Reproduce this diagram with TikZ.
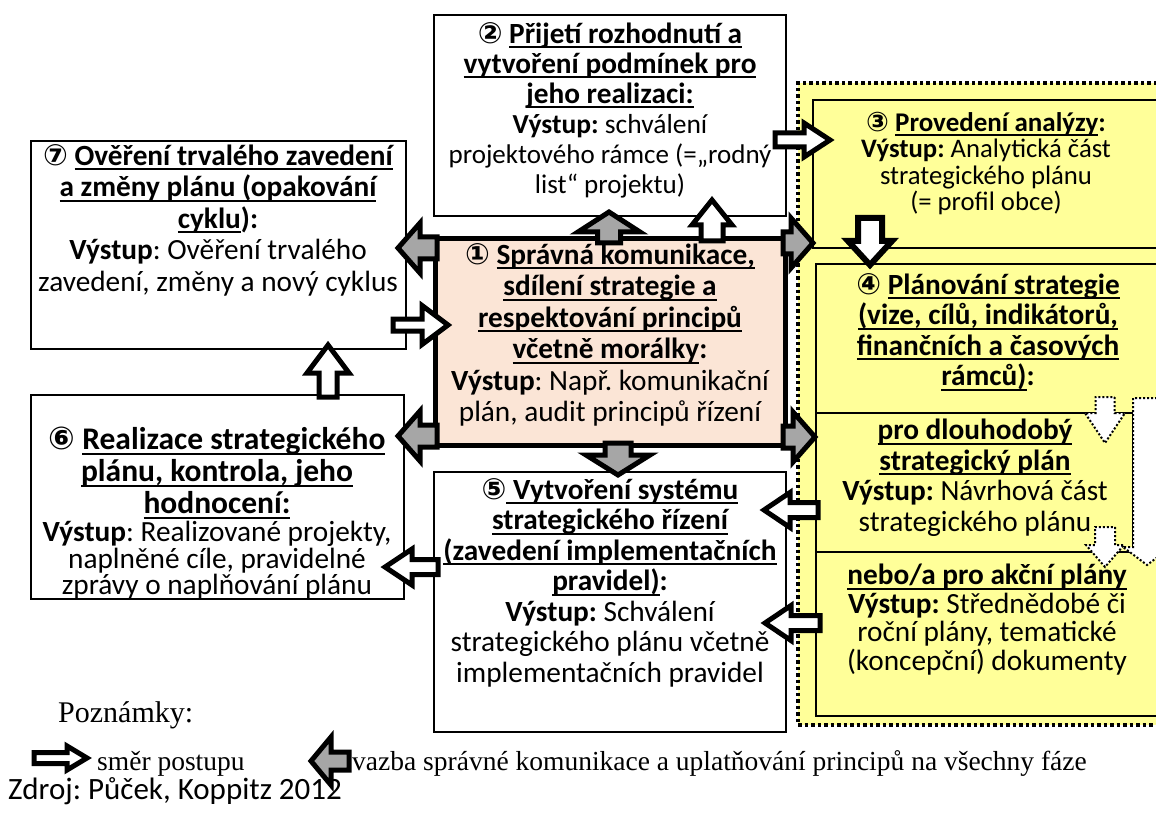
\documentclass[tikz,border=0pt]{standalone}
\usepackage{fontspec}
\setmainfont{Carlito}
\newfontfamily\symfont{DejaVu Sans}
\newfontfamily\notefont{Liberation Serif}
\usetikzlibrary{calc}
\frenchspacing

\definecolor{peach}{HTML}{FBE5D6}
\definecolor{lemon}{HTML}{FFFF99}
\definecolor{linkgray}{HTML}{A6A6A6}

\newcommand\cn[1]{{\symfont #1}}
% underline drawn as a rule under one line of text
\newcommand\uln[1]{\setbox0=\hbox{#1}\leavevmode\rlap{\rule[-0.17em]{\wd0}{0.07em}}\box0}

% block arrow: [style]{tail}{tip}{shaft half width}{head half width}{head length}
\newcommand\blockarrow[6][]{%
  \draw[#1] let \p1=(#2), \p2=(#3),
      \n1={atan2(\y2-\y1,\x2-\x1)}, \n2={veclen(\x2-\x1,\y2-\y1)} in
    [shift={(\p1)}, rotate=\n1]
    (0pt,#4) -- ({\n2-#6},#4) -- ({\n2-#6},#5) -- ({\n2},0pt)
    -- ({\n2-#6},-#5) -- ({\n2-#6},-#4) -- (0pt,-#4) -- cycle;}

\tikzset{
  box/.style={draw, line width=2pt, anchor=north west, inner sep=0pt, outer sep=0pt},
  txt/.style={align=center, inner sep=0pt, anchor=north,
              font=\fontsize{29.3}{30}\selectfont},
  flowarrow/.style={draw=black, fill=white, line width=5pt},
  linkarrow/.style={draw=black, fill=linkgray, line width=5pt},
  dotarrow/.style={draw=black, fill=white, line width=2pt, dash pattern=on 2pt off 2pt},
  note/.style={anchor=base west, inner sep=0pt, font=\notefont\fontsize{27.5}{30}\selectfont},
}

\begin{document}
\begin{tikzpicture}[x=1pt,y=-1pt]
\useasboundingbox (0,0) rectangle (1156,826);

% dotted frame around the analysis and planning phases
\fill[lemon] (798,83) rectangle (1170,725);
\draw[line width=3.5pt, dash pattern=on 3.5pt off 3pt] (1170,83) -- (798,83) -- (798,725) -- (1170,725);

% phase boxes
\node[box, fill=lemon, minimum width=360pt, minimum height=148pt] (b3) at (813,100) {};
\node[box, fill=lemon, minimum width=357pt, minimum height=452pt] (b4) at (816,264) {};
\draw[line width=2pt] (816,413) -- (1170,413);
\draw[line width=2pt] (816,552) -- (1170,552);
\draw[line width=2pt] (1133,413) -- (1133,552);

\node[box, fill=white, minimum width=352pt, minimum height=201pt] (b2) at (434,15) {};
\node[box, fill=white, minimum width=375pt, minimum height=208pt] (b7) at (31,141) {};
\node[box, fill=white, minimum width=373pt, minimum height=204pt] (b6) at (31,395) {};
\node[box, fill=white, minimum width=352pt, minimum height=260pt] (b5) at (434,472) {};
\node[box, fill=peach, line width=5pt, minimum width=350pt, minimum height=206pt] (b1) at (435,239) {};

% texts
\node[txt] (t2) at (610,22) {%
  \textbf{\cn{②} \uln{Přijetí rozhodnutí a}}\\
  \textbf{\uln{vytvoření podmínek pro}}\\
  \textbf{\uln{jeho realizaci:}}\\
  {\fontsize{27.5}{30}\selectfont\textbf{Výstup:} schválení}\\
  {\fontsize{27}{30}\selectfont projektového rámce (=„rodný}\\
  {\fontsize{27}{30}\selectfont list“ projektu)}};

\node[txt, font=\fontsize{27}{26.5}\selectfont] (t3) at (986,112) {%
  \textbf{\cn{③} \uln{Provedení analýzy}:}\\
  {\fontsize{26.7}{26.5}\selectfont\textbf{Výstup:} Analytická část}\\
  {\fontsize{26.7}{26.5}\selectfont strategického plánu}\\
  {\fontsize{26.7}{26.5}\selectfont (= profil obce)}};

\node[txt, font=\fontsize{29.3}{30.5}\selectfont] (t4) at (988,273) {%
  \textbf{\cn{④} \uln{Plánování strategie}}\\
  \textbf{\uln{(vize, cílů, indikátorů,}}\\
  \textbf{\uln{finančních a časových}}\\
  \textbf{\uln{rámců)}:}};

\node[txt, font=\fontsize{29.3}{30.5}\selectfont] (t4a) at (975,419) {%
  \textbf{\uln{pro dlouhodobý}}\\
  \textbf{\uln{strategický plán}}\\
  \textbf{Výstup:} Návrhová část\\
  strategického plánu};

\node[txt, font=\fontsize{29.3}{28.5}\selectfont] (t4b) at (987,564) {%
  \textbf{\uln{nebo/a pro akční plány}}\\
  \textbf{Výstup:} Střednědobé či\\
  roční plány, tematické\\
  (koncepční) dokumenty};

\node[txt, font=\fontsize{29.3}{31.5}\selectfont] (t1) at (610,243) {%
  \textbf{\cn{①} \uln{Správná komunikace,}}\\
  \textbf{\uln{sdílení strategie a}}\\
  \textbf{\uln{respektování principů}}\\
  \textbf{\uln{včetně morálky}:}\\
  \textbf{Výstup}: Např. komunikační\\
  plán, audit principů řízení};

\node[txt, font=\fontsize{29.3}{30.5}\selectfont] (t5) at (610,478) {%
  \textbf{\cn{⑤}\uln{ Vytvoření systému}}\\
  \textbf{\uln{strategického řízení}}\\
  \textbf{\uln{(zavedení implementačních}}\\
  \textbf{\uln{pravidel)}:}\\
  \textbf{Výstup:} Schválení\\
  strategického plánu včetně\\
  implementačních pravidel};

\node[txt, font=\fontsize{29.3}{26.5}\selectfont] (t6) at (217,427) {%
  {\fontsize{31.5}{30}\selectfont\textbf{\cn{⑥} \uln{Realizace strategického}}}\\[3.5pt]
  {\fontsize{31.5}{30}\selectfont\textbf{\uln{plánu, kontrola, jeho}}}\\[3.5pt]
  {\fontsize{31.5}{30}\selectfont\textbf{\uln{hodnocení:}}}\\[1.5pt]
  \textbf{Výstup}: Realizované projekty,\\
  naplněné cíle, pravidelné\\
  zprávy o naplňování plánu};

\node[txt, font=\fontsize{29.3}{31.5}\selectfont] (t7) at (218,144) {%
  \textbf{\cn{⑦} \uln{Ověření trvalého zavedení}}\\
  \textbf{\uln{a změny plánu (opakování}}\\
  \textbf{\uln{cyklu}):}\\
  \textbf{Výstup}: Ověření trvalého\\
  zavedení, změny a nový cyklus};

% arrow end points
\coordinate (a23s) at (775,140);  \coordinate (a23e) at (830,140);
\coordinate (a12ws) at (712,241); \coordinate (a12we) at (712,200);
\coordinate (a12gs) at (609,243); \coordinate (a12ge) at (609,212);
\coordinate (a17s) at (437,248);  \coordinate (a17e) at (398,248);
\coordinate (a16s) at (437,436);  \coordinate (a16e) at (398,436);
\coordinate (a13s) at (783,243);  \coordinate (a13e) at (813,243);
\coordinate (a14s) at (783,437);  \coordinate (a14e) at (815,437);
\coordinate (a15s) at (618,443);  \coordinate (a15e) at (618,475);
\coordinate (a45as) at (818,510); \coordinate (a45ae) at (764,510);
\coordinate (a45bs) at (820,623); \coordinate (a45be) at (765,623);
\coordinate (a56s) at (438,567);  \coordinate (a56e) at (385,567);
\coordinate (a67s) at (328,397);  \coordinate (a67e) at (328,345);
\coordinate (a71s) at (393,325);  \coordinate (a71e) at (448,325);
\coordinate (a34s) at (870,218);  \coordinate (a34e) at (870,265);

% direction of progress
\blockarrow[flowarrow]{a23s}{a23e}{7pt}{17pt}{26pt}
\blockarrow[flowarrow]{a12ws}{a12we}{11pt}{20pt}{25pt}
\blockarrow[flowarrow]{a45as}{a45ae}{7.5pt}{17.5pt}{26pt}
\blockarrow[flowarrow]{a45bs}{a45be}{7.5pt}{17.5pt}{26pt}
\blockarrow[flowarrow]{a56s}{a56e}{7.5pt}{18pt}{27pt}
\blockarrow[flowarrow]{a67s}{a67e}{9pt}{21pt}{28pt}
\blockarrow[flowarrow]{a71s}{a71e}{6pt}{19.5pt}{26pt}
\blockarrow[flowarrow, line width=6pt]{a34s}{a34e}{12pt}{22pt}{24pt}

% links of communication to all phases
\blockarrow[linkarrow]{a12gs}{a12ge}{11.5pt}{31pt}{20pt}
\blockarrow[linkarrow]{a17s}{a17e}{11pt}{25pt}{22pt}
\blockarrow[linkarrow]{a16s}{a16e}{11pt}{25pt}{22pt}
\blockarrow[linkarrow]{a13s}{a13e}{11pt}{25pt}{22pt}
\blockarrow[linkarrow]{a14s}{a14e}{11pt}{25pt}{22pt}
\blockarrow[linkarrow]{a15s}{a15e}{13pt}{32pt}{20pt}

% optional continuation within phase 4
\coordinate (d1s) at (1105,397); \coordinate (d1e) at (1105,443);
\coordinate (d2s) at (1105,527); \coordinate (d2e) at (1105,567);
\coordinate (d3s) at (1147,398); \coordinate (d3e) at (1147,565);
\blockarrow[dotarrow]{d3s}{d3e}{14pt}{24pt}{18pt}
\blockarrow[dotarrow]{d1s}{d1e}{9.5pt}{20pt}{30pt}
\blockarrow[dotarrow]{d2s}{d2e}{10pt}{19pt}{22pt}

% notes
\node[note, font=\notefont\fontsize{30}{30}\selectfont] (notes) at (58,722) {Poznámky:};
\coordinate (l1s) at (34,758); \coordinate (l1e) at (87,758);
\blockarrow[flowarrow]{l1s}{l1e}{5.5pt}{12pt}{20pt}
\node[note] (lg1) at (97,770) {směr postupu};
\coordinate (l2s) at (349,761); \coordinate (l2e) at (311,761);
\blockarrow[linkarrow]{l2s}{l2e}{9pt}{24pt}{20pt}
\node[note] (lg2) at (352,770) {vazba správné komunikace a uplatňování principů na všechny fáze};
\node[anchor=base west, inner sep=0pt, font=\fontsize{31}{30}\selectfont] (src) at (8,799) {Zdroj: Půček, Koppitz 2012};
\end{tikzpicture}
\end{document}
